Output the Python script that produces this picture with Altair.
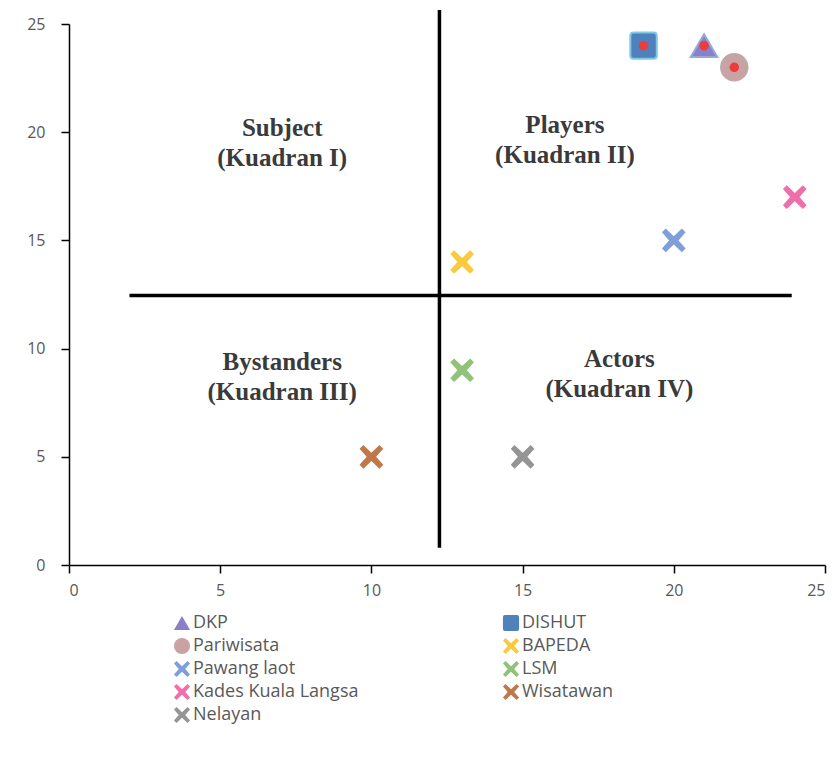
import altair as alt
import pandas as pd

# ---- data ----
names = ["DKP", "DISHUT", "Pariwisata", "BAPEDA", "Pawang laot", "LSM",
         "Kades Kuala Langsa", "Wisatawan", "Nelayan"]
xs = [21, 19, 22, 13, 20, 13, 24, 10, 15]
ys = [24, 24, 23, 14, 15, 9, 17, 5, 5]

quad_labels = ["Subject\n(Kuadran I)", "Players\n(Kuadran II)",
               "Bystanders\n(Kuadran III)", "Actors\n(Kuadran IV)"]
quad_x = [7.05, 16.4, 7.05, 18.2]
quad_y = [20.2, 20.35, 9.4, 9.5]

vline_x = [12.25]
vline_y = [0.8]
vline_y2 = [25.65]
hline_y = [12.45]
hline_x = [2.0]
hline_x2 = [23.9]

colors = ["#8C7FC8", "#4F81BD", "#C9A3A3", "#F9C940", "#7F9FDB",
          "#8FC27A", "#F06EAA", "#C0784A", "#959595"]
strokes = ["#93A9DC", "#7FC8E8", "#BFA8A8", "#F9C940", "#7F9FDB",
           "#8FC27A", "#F06EAA", "#C0784A", "#959595"]

XPATH = "M-1,-0.68 L-0.68,-1 L0,-0.35 L0.68,-1 L1,-0.68 L0.4,0 L1,0.68 L0.68,1 L0,0.35 L-0.68,1 L-1,0.68 L-0.4,0 Z"
RSQ = "M-1,-0.75 Q-1,-1 -0.75,-1 L0.75,-1 Q1,-1 1,-0.75 L1,0.75 Q1,1 0.75,1 L-0.75,1 Q-1,1 -1,0.75 Z"
shapes = ["triangle-up", RSQ, "circle", XPATH, XPATH, XPATH, XPATH, XPATH, XPATH]

df = pd.DataFrame({"name": names, "x": xs, "y": ys})
big = df[df["name"].isin(names[:3])]
small = df[~df["name"].isin(names[:3])]
qdf = pd.DataFrame({"label": quad_labels, "x": quad_x, "y": quad_y})
vdf = pd.DataFrame({"x": vline_x, "y": vline_y, "y2": vline_y2})
hdf = pd.DataFrame({"y": hline_y, "x": hline_x, "x2": hline_x2})

xscale = alt.Scale(domain=[0, 25], nice=False)
yscale = alt.Scale(domain=[0, 25], nice=False)
xax = alt.Axis(values=[0, 5, 10, 15, 20, 25], title=None, grid=False, labelPadding=9)
yax = alt.Axis(values=[0, 5, 10, 15, 20, 25], title=None, grid=False, labelPadding=16)

color = alt.Color("name:N", scale=alt.Scale(domain=names, range=colors),
                  legend=alt.Legend(title=None, orient="none", legendX=104, legendY=590,
                                    direction="horizontal",
                                    columns=2, columnPadding=143, rowPadding=5,
                                    symbolSize=260, labelFontSize=18, labelLimit=400,
                                    labelFont="Open Sans", labelColor="#595959",
                                    labelOffset=2, symbolStrokeWidth=0, padding=0))
shape = alt.Shape("name:N", scale=alt.Scale(domain=names, range=shapes))
stroke = alt.Stroke("name:N", scale=alt.Scale(domain=names, range=strokes), legend=None)

base_enc = dict(x=alt.X("x:Q", scale=xscale, axis=xax),
                y=alt.Y("y:Q", scale=yscale, axis=yax))

vrule = alt.Chart(vdf).mark_rule(color="black", strokeWidth=3.5).encode(
    x=alt.X("x:Q", scale=xscale, axis=xax),
    y=alt.Y("y:Q", scale=yscale, axis=yax), y2="y2:Q")
hrule = alt.Chart(hdf).mark_rule(color="black", strokeWidth=3.5).encode(
    y=alt.Y("y:Q", scale=yscale, axis=yax),
    x=alt.X("x:Q", scale=xscale, axis=xax), x2="x2:Q")

texts = alt.Chart(qdf).mark_text(font="Liberation Serif", fontWeight="bold", fontSize=25,
                                 color="#3a3a3a", lineBreak="\n", lineHeight=30,
                                 align="center", baseline="middle").encode(
    x=alt.X("x:Q", scale=xscale, axis=xax),
    y=alt.Y("y:Q", scale=yscale, axis=yax), text="label:N")

pts_big = alt.Chart(big).mark_point(filled=True, opacity=1, size=700, strokeWidth=2).encode(
    color=color, shape=shape, stroke=stroke, **base_enc)
pts_small = alt.Chart(small).mark_point(filled=True, opacity=1, size=560, strokeWidth=0).encode(
    color=color, shape=shape, stroke=stroke, **base_enc)
dots = alt.Chart(big).mark_point(filled=True, opacity=1, size=90, color="#EE3B3B").encode(**base_enc)

chart = alt.layer(vrule, hrule, texts, pts_big, pts_small, dots).properties(
    width=756, height=541,
    autosize=alt.AutoSizeParams(type="none"),
    padding={"left": 61, "top": 16, "right": 5, "bottom": 186},
).configure_view(stroke=None).configure_axis(
    domainColor="black", domainWidth=1.5, tickColor="black", tickWidth=1.5, tickSize=8,
    labelFont="Open Sans", labelFontSize=16, labelColor="#595959",
)

chart.save("out.html", embed_options={"renderer": "svg", "actions": False})
